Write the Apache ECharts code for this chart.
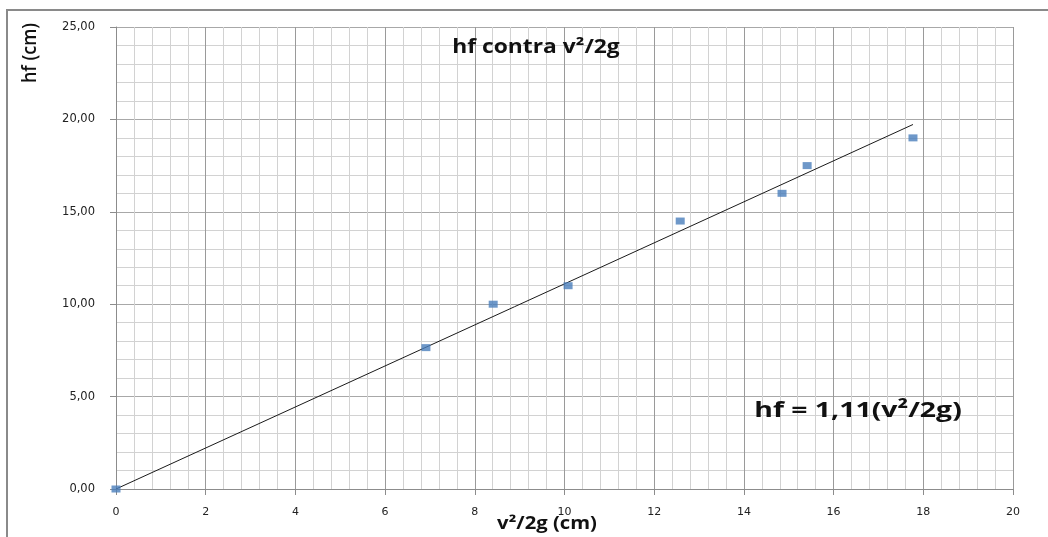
<!DOCTYPE html>
<html>
<head>
<meta charset="utf-8">
<script src="https://cdn.jsdelivr.net/npm/echarts@6/dist/echarts.min.js"></script>
<style>
  html, body { margin: 0; padding: 0; background: #fff; }
  #chart { width: 1048px; height: 537px; }
</style>
</head>
<body>
<div id="chart"></div>
<script>
// Measured velocity heads v²/2g (cm) and head losses hf (cm)
const v2g = [0, 6.91, 8.41, 10.08, 12.58, 14.85, 15.41, 17.77];
const hf = [0.00, 7.65, 10.00, 11.00, 14.50, 16.00, 17.50, 19.00];
// Fitted line through the origin: hf = 1,11 (v²/2g)
const slope = 1.11;
const xTicks = [0, 2, 4, 6, 8, 10, 12, 14, 16, 18, 20];
const yTicks = [0, 5, 10, 15, 20, 25];

const points = v2g.map((x, i) => [x, hf[i]]);
const xMax = Math.max(...v2g);
const fitLine = [[0, 0], [xMax, slope * xMax]];

const chart = echarts.init(document.getElementById('chart'));
const labelFont = 'DejaVu Sans';
const textFont = 'Open Sans';

chart.setOption({
  animation: false,
  backgroundColor: '#ffffff',
  grid: { left: 116, right: 35, top: 27, bottom: 48 },
  xAxis: {
    type: 'value',
    min: xTicks[0], max: xTicks[xTicks.length - 1], interval: 2,
    axisLine: { show: true, lineStyle: { color: '#8c8c8c', width: 1 } },
    axisTick: { show: true, length: 6, lineStyle: { color: '#8c8c8c' } },
    axisLabel: { margin: 18, color: '#222', fontFamily: labelFont, fontSize: 11 },
    splitLine: { show: true, lineStyle: { color: '#9a9a9a', width: 1 } },
    minorTick: { show: false, splitNumber: 5 },
    minorSplitLine: { show: true, lineStyle: { color: '#d2d2d2', width: 1 } }
  },
  yAxis: {
    type: 'value',
    min: yTicks[0], max: yTicks[yTicks.length - 1], interval: 5,
    axisLine: { show: true, lineStyle: { color: '#8c8c8c', width: 1 } },
    axisTick: { show: true, length: 6, lineStyle: { color: '#8c8c8c' } },
    axisLabel: {
      margin: 21, color: '#222', fontFamily: labelFont, fontSize: 11.5,
      formatter: v => v.toFixed(2).replace('.', ',')
    },
    splitLine: { show: true, lineStyle: { color: '#a8a8a8', width: 1 } },
    minorTick: { show: false, splitNumber: 5 },
    minorSplitLine: { show: true, lineStyle: { color: '#d2d2d2', width: 1 } }
  },
  series: [
    {
      type: 'line',
      data: fitLine,
      symbol: 'none',
      lineStyle: { color: '#1a1a1a', width: 1 },
      z: 3
    },
    {
      type: 'scatter',
      data: points,
      symbol: 'rect',
      symbolSize: [9, 7],
      itemStyle: { color: '#4a7ebb' },
      z: 4
    }
  ],
  graphic: [
    {
      type: 'rect',
      shape: { x: 7, y: 10, width: 1100, height: 600 },
      style: { fill: 'none', stroke: '#8a8a8a', lineWidth: 2 },
      silent: true, z: 0
    },
    {
      type: 'text', x: 536, y: 48, scaleX: 1.2,
      style: {
        text: 'hf contra v²/2g', fontFamily: textFont, fontWeight: 'bold',
        fontSize: 19, fill: '#111', align: 'center', verticalAlign: 'middle'
      }, z: 10
    },
    {
      type: 'text', x: 30, y: 53, rotation: Math.PI / 2, scaleY: 1.1,
      style: {
        text: 'hf (cm)', fontFamily: textFont, fontWeight: 600, fontSize: 18,
        fill: '#111', align: 'center', verticalAlign: 'middle'
      }, z: 10
    },
    {
      type: 'text', x: 547, y: 524, scaleX: 1.19,
      style: {
        text: 'v²/2g (cm)', fontFamily: textFont, fontWeight: 'bold',
        fontSize: 17, fill: '#111', align: 'center', verticalAlign: 'middle'
      }, z: 10
    },
    {
      type: 'text', x: 858, y: 411, scaleX: 1.29,
      style: {
        text: 'hf = 1,11(v²/2g)', fontFamily: textFont, fontWeight: 'bold',
        fontSize: 22, fill: '#111', align: 'center', verticalAlign: 'middle'
      }, z: 10
    }
  ]
});
</script>
</body>
</html>
